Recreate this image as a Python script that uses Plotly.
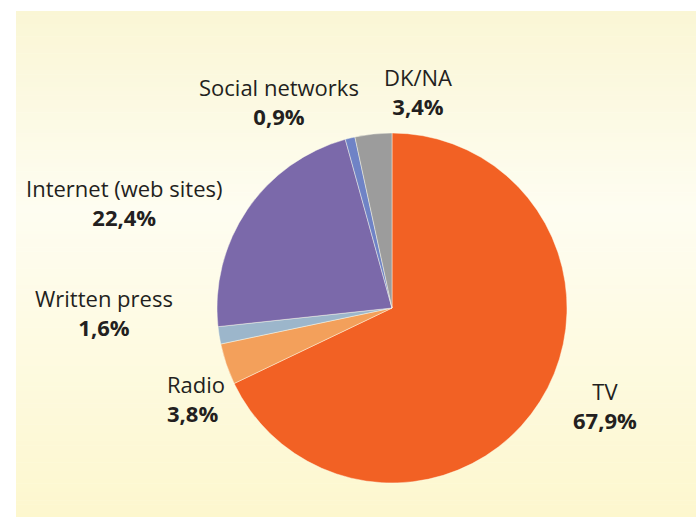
import plotly.graph_objects as go

W, H = 696, 517

# Survey shares by main information source
categories = ["TV", "Radio", "Written press", "Internet (web sites)", "Social networks", "DK/NA"]
shares = [67.9, 3.8, 1.6, 22.4, 0.9, 3.4]
slice_colors = ["#F26124", "#F3A05B", "#9CB6CB", "#7B69AA", "#6F83C6", "#9C9C9C"]

# label blocks in pixels: (x, top of first line, bottom baseline, x anchor)
label_pos = {
    "TV": (605, 383, 424, "center"),
    "Radio": (166, 376, 417, "left"),
    "Written press": (104, 291, 329, "center"),
    "Internet (web sites)": (125, 180, 220, "center"),
    "Social networks": (279, 80, 120, "center"),
    "DK/NA": (418, 70, 110, "center"),
}

FONT = "Open Sans"
FS = 22


def px(x):
    return x / W


def py(y):
    return 1 - y / H


def fmt(v):
    return f"{v:.1f}".replace(".", ",") + "%"


fig = go.Figure()

# pie geometry: centre (392, 308), radius 175 px
cx, cy, r = 392, 308, 175
fig.add_trace(go.Pie(
    labels=categories,
    values=shares,
    sort=False,
    direction="clockwise",
    rotation=0,
    textinfo="none",
    hoverinfo="label+percent",
    marker=dict(colors=slice_colors, line=dict(color="rgba(255,255,240,0.55)", width=0.8)),
    domain=dict(x=[px(cx - r), px(cx + r)], y=[py(cy + r), py(cy - r)]),
    showlegend=False,
))

# soft vertical gradient panel behind the chart
def lerp(c0, c1, t):
    return tuple(round(a + (b - a) * t) for a, b in zip(c0, c1))

stops = [(11, (250, 246, 213)), (210, (254, 253, 241)), (517, (253, 247, 206))]
shapes = []
top, bottom = 11, 517
n = 120
for i in range(n):
    y0 = top + (bottom - top) * i / n
    y1 = top + (bottom - top) * (i + 1) / n
    ym = (y0 + y1) / 2
    for (a, ca), (b, cb) in zip(stops[:-1], stops[1:]):
        if a <= ym <= b:
            col = lerp(ca, cb, (ym - a) / (b - a))
            break
    shapes.append(dict(
        type="rect", xref="paper", yref="paper", layer="below",
        x0=px(16), x1=1, y0=py(y1 + 0.5), y1=py(y0),
        fillcolor="rgb(%d,%d,%d)" % col, line=dict(width=0),
    ))

annotations = []
for cat, v in zip(categories, shares):
    x, t, b, anchor = label_pos[cat]
    annotations.append(dict(
        x=px(x), y=py((t + b) / 2 + 2), xref="paper", yref="paper",
        text=cat + "<br><b>" + fmt(v) + "</b>",
        showarrow=False, xanchor=anchor, yanchor="middle", align=anchor,
        borderpad=0,
        font=dict(family=FONT, size=FS, color="#231F20"),
    ))

fig.update_layout(
    width=W, height=H,
    margin=dict(l=0, r=0, t=0, b=0),
    paper_bgcolor="white",
    plot_bgcolor="white",
    shapes=shapes,
    annotations=annotations,
)

fig.write_html("out.html")
